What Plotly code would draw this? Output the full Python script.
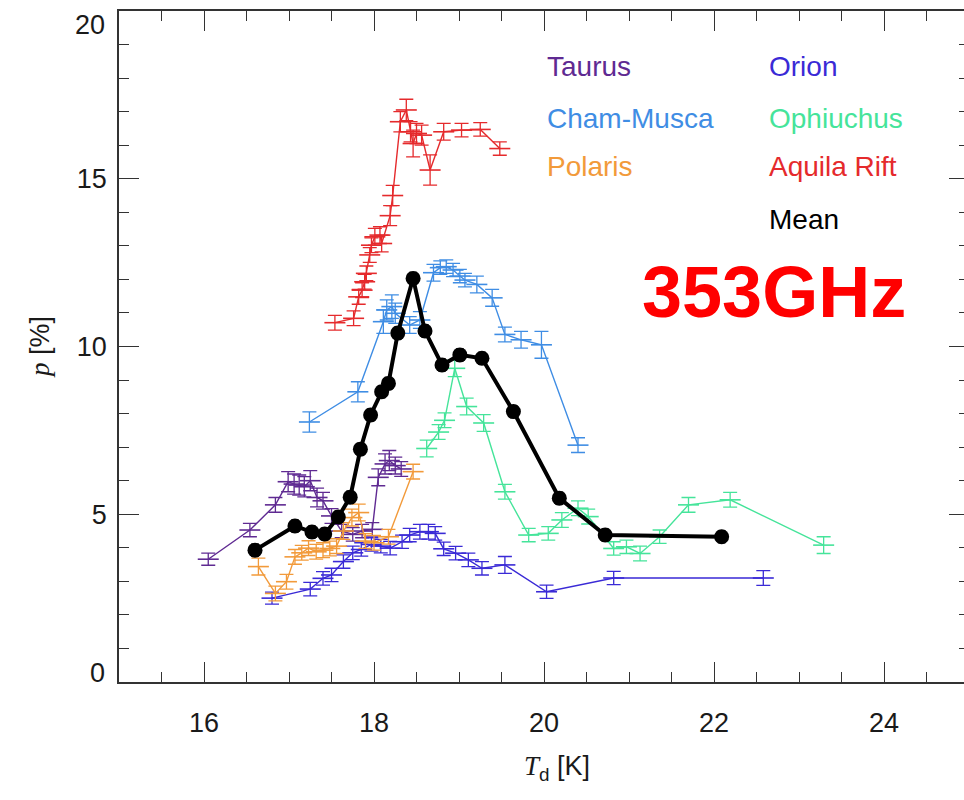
import plotly.graph_objects as go

# ---- data: dust temperature T_d [K] vs polarisation fraction p [%] at 353 GHz ----
taurus_T = [16.05, 16.54, 16.84, 16.99, 17.06, 17.12, 17.18, 17.25, 17.33, 17.40,
            17.50, 17.62, 17.75, 17.86, 17.98, 18.05, 18.13, 18.18, 18.25, 18.32]
taurus_p = [3.66, 4.53, 5.28, 5.97, 5.90, 5.87, 5.82, 6.00, 5.50, 5.40,
            4.95, 4.50, 4.40, 4.50, 4.55, 6.10, 6.50, 6.60, 6.45, 6.35]
taurus_err = [0.18, 0.2, 0.22, 0.3, 0.3, 0.3, 0.3, 0.3, 0.28, 0.25,
              0.22, 0.2, 0.2, 0.2, 0.2, 0.25, 0.3, 0.3, 0.25, 0.22]

orion_T = [16.80, 17.25, 17.40, 17.50, 17.64, 17.75, 17.85, 17.97, 18.08, 18.19, 18.33,
           18.42, 18.54, 18.64, 18.72, 18.82, 18.96, 19.11, 19.27, 19.54, 20.03, 20.82, 22.58]
orion_p = [2.50, 2.77, 3.09, 3.19, 3.59, 3.85, 3.95, 4.10, 4.05, 3.99, 4.18,
           4.38, 4.48, 4.48, 4.43, 3.97, 3.84, 3.64, 3.39, 3.49, 2.69, 3.10, 3.10]
orion_err = [0.18, 0.2, 0.2, 0.2, 0.2, 0.2, 0.2, 0.2, 0.2, 0.2, 0.2,
             0.2, 0.22, 0.22, 0.2, 0.2, 0.2, 0.2, 0.2, 0.25, 0.2, 0.2, 0.22]

cham_T = [17.24, 17.81, 18.11, 18.15, 18.21, 18.25, 18.42, 18.54, 18.70, 18.78,
          18.85, 18.93, 19.01, 19.07, 19.21, 19.39, 19.54, 19.73, 19.97, 20.40]
cham_p = [7.75, 8.65, 10.74, 11.09, 11.19, 10.99, 10.64, 10.79, 12.20, 12.35,
          12.38, 12.28, 12.10, 11.98, 11.85, 11.45, 10.36, 10.20, 10.05, 7.06]
cham_err = [0.3, 0.3, 0.35, 0.3, 0.35, 0.3, 0.25, 0.25, 0.25, 0.2,
            0.2, 0.2, 0.2, 0.2, 0.25, 0.25, 0.22, 0.25, 0.4, 0.22]

oph_T = [18.62, 18.76, 18.83, 18.95, 19.09, 19.29, 19.54, 19.82, 20.05, 20.21,
         20.40, 20.52, 20.82, 20.97, 21.13, 21.36, 21.70, 22.19, 23.29]
oph_p = [6.96, 7.45, 7.80, 9.35, 8.21, 7.72, 5.67, 4.38, 4.43, 4.83,
         5.18, 4.93, 3.98, 4.03, 3.83, 4.33, 5.28, 5.43, 4.08]
oph_err = [0.25, 0.22, 0.22, 0.25, 0.25, 0.25, 0.22, 0.2, 0.2, 0.22,
           0.22, 0.22, 0.2, 0.2, 0.22, 0.2, 0.22, 0.22, 0.25]

polaris_T = [16.64, 16.84, 16.97, 17.07, 17.15, 17.23, 17.32, 17.40, 17.48,
             17.56, 17.64, 17.74, 17.82, 17.90, 18.00, 18.17, 18.46]
polaris_p = [3.44, 2.64, 2.99, 3.73, 3.85, 3.99, 3.88, 3.93, 3.98,
             4.05, 4.50, 4.90, 5.05, 4.20, 4.15, 4.33, 6.27]
polaris_err = [0.25, 0.22, 0.22, 0.22, 0.22, 0.22, 0.22, 0.22, 0.22,
               0.22, 0.25, 0.25, 0.25, 0.22, 0.22, 0.22, 0.22]

aquila_T = [17.54, 17.76, 17.82, 17.86, 17.89, 17.91, 17.95, 17.97, 18.01, 18.07, 18.09, 18.19,
            18.22, 18.31, 18.38, 18.43, 18.46, 18.50, 18.56, 18.66, 18.82, 19.03, 19.25, 19.48]
aquila_p = [10.71, 10.84, 11.48, 11.68, 11.93, 12.18, 12.73, 13.02, 13.27, 13.32, 13.07, 13.90,
            14.50, 16.70, 17.05, 16.40, 16.05, 16.35, 16.30, 15.26, 16.40, 16.45, 16.47, 15.90]
aquila_err = [0.22, 0.22, 0.22, 0.22, 0.22, 0.22, 0.22, 0.22, 0.25, 0.25, 0.25, 0.3,
              0.3, 0.3, 0.32, 0.3, 0.4, 0.3, 0.3, 0.45, 0.25, 0.2, 0.2, 0.2]

mean_T = [16.60, 17.07, 17.27, 17.42, 17.58, 17.72, 17.84, 17.96, 18.09, 18.17,
          18.28, 18.46, 18.60, 18.80, 19.01, 19.27, 19.64, 20.18, 20.72, 22.09]
mean_p = [3.93, 4.65, 4.47, 4.41, 4.92, 5.51, 6.94, 7.96, 8.65, 8.90,
          10.40, 12.03, 10.46, 9.45, 9.75, 9.65, 8.06, 5.48, 4.38, 4.33]
mean_err = [0.15] * len(mean_T)

y_inner_ticks = [5, 10, 15]          # labelled by the axis itself
y_end_ticks = [0, 20]                # labelled separately, nudged inside the frame

regions = [
    ("Taurus", taurus_T, taurus_p, taurus_err, "#5f2a92"),
    ("Orion", orion_T, orion_p, orion_err, "#3a2ad6"),
    ("Cham-Musca", cham_T, cham_p, cham_err, "#3f8de4"),
    ("Ophiuchus", oph_T, oph_p, oph_err, "#45e49a"),
    ("Polaris", polaris_T, polaris_p, polaris_err, "#f29a3a"),
    ("Aquila Rift", aquila_T, aquila_p, aquila_err, "#e52a2c"),
]

# ---- figure geometry (pixels) ----
W, H = 964, 800
PL, PR, PT, PB = 119, 964, 11, 682          # plot-area edges
X0, XSCALE = 15.0, 85.0                      # x=15 at left edge, 85 px per kelvin
XMAX = X0 + (PR - PL) / XSCALE


def paper(px, py):
    return (px - PL) / (PR - PL), (PB - py) / (PB - PT)


FONT = "Liberation Sans"
TXT = "#1a1a1a"
fig = go.Figure()

for name, t, p, e, col in regions:
    fig.add_trace(go.Scatter(
        x=t, y=p, name=name, mode="lines+markers",
        line=dict(color=col, width=1.4),
        marker=dict(symbol="line-ew", size=15, line=dict(color=col, width=1.6)),
        error_y=dict(type="data", array=e, width=7, thickness=1.3, color=col),
        showlegend=False,
    ))

fig.add_trace(go.Scatter(
    x=mean_T, y=mean_p, name="Mean", mode="lines+markers",
    line=dict(color="black", width=4),
    marker=dict(symbol="circle", size=15, color="black"),
    error_y=dict(type="data", array=mean_err, width=4, thickness=3, color="black"),
    showlegend=False,
))

# invisible trace carrying the right-hand tick axis
fig.add_trace(go.Scatter(x=[None], y=[None], yaxis="y2", showlegend=False, hoverinfo="skip"))

axis_common = dict(
    showgrid=False, zeroline=False, ticks="inside", tickcolor="#333",
    tickwidth=1.3, ticklen=20, linecolor="#333", linewidth=1.5,
    tickfont=dict(family=FONT, size=27, color=TXT),
)

fig.update_layout(
    width=W, height=H,
    margin=dict(l=PL, r=W - PR, t=PT, b=H - PB),
    paper_bgcolor="white", plot_bgcolor="white",
    xaxis=dict(
        range=[X0, XMAX], tick0=0, dtick=2, showline=True, mirror="ticks",
        minor=dict(dtick=0.5, ticks="inside", ticklen=10, tickcolor="#333", tickwidth=1.3),
        ticklabelstandoff=16,
        **axis_common,
    ),
    yaxis=dict(
        range=[0, 20], tickmode="array", tickvals=y_inner_ticks,
        ticktext=[str(v) for v in y_inner_ticks],
        showline=True, mirror=False,
        minor=dict(tickmode="linear", tick0=0, dtick=1, ticks="inside", ticklen=10,
                   tickcolor="#333", tickwidth=1.3),
        ticklabelstandoff=5,
        **axis_common,
    ),
    yaxis2=dict(
        range=[0, 20], overlaying="y", side="right", showgrid=False, zeroline=False,
        showline=False, showticklabels=False, ticks="inside", tick0=0, dtick=5,
        ticklen=15, tickwidth=1.3, tickcolor="#333",
        minor=dict(dtick=1, ticks="inside", ticklen=5, tickcolor="#333", tickwidth=1.3),
    ),
)

for v in y_end_ticks:
    lx, ly = paper(107, 673 if v == 0 else 25)
    fig.add_annotation(
        x=lx, y=ly, xref="paper", yref="paper", showarrow=False,
        xanchor="right", yanchor="middle", text=str(v),
        font=dict(family=FONT, size=27, color=TXT),
    )

# axis titles
xt, yt = paper(557, 768)
fig.add_annotation(
    x=xt, y=yt, xref="paper", yref="paper", showarrow=False,
    xanchor="center", yanchor="middle",
    text="<span style='font-family:Liberation Serif'><i>T</i></span><sub>d</sub> [K]",
    font=dict(family=FONT, size=27, color=TXT),
)
xt, yt = paper(40, 347)
fig.add_annotation(
    x=xt, y=yt, xref="paper", yref="paper", showarrow=False, textangle=-90,
    xanchor="center", yanchor="middle",
    text="<span style='font-family:Liberation Serif'><i>p</i></span> [%]",
    font=dict(family=FONT, size=27, color=TXT),
)

# region labels, two columns
label_pos = {
    "Taurus": (545, 67), "Cham-Musca": (545, 118), "Polaris": (545, 167),
    "Orion": (767, 67), "Ophiuchus": (767, 118), "Aquila Rift": (767, 167),
}
for name, t, p, e, col in regions:
    lx, ly = paper(*label_pos[name])
    fig.add_annotation(
        x=lx, y=ly, xref="paper", yref="paper", showarrow=False,
        xanchor="left", yanchor="middle", text=name,
        font=dict(family=FONT, size=28, color=col),
    )
lx, ly = paper(767, 219)
fig.add_annotation(
    x=lx, y=ly, xref="paper", yref="paper", showarrow=False,
    xanchor="left", yanchor="middle", text="Mean",
    font=dict(family=FONT, size=28, color="black"),
)

# frequency tag
lx, ly = paper(640, 292)
fig.add_annotation(
    x=lx, y=ly, xref="paper", yref="paper", showarrow=False,
    xanchor="left", yanchor="middle", text="<b>353GHz</b>",
    font=dict(family=FONT, size=72, color="#ff0000"),
)

fig.write_html("out.html")
